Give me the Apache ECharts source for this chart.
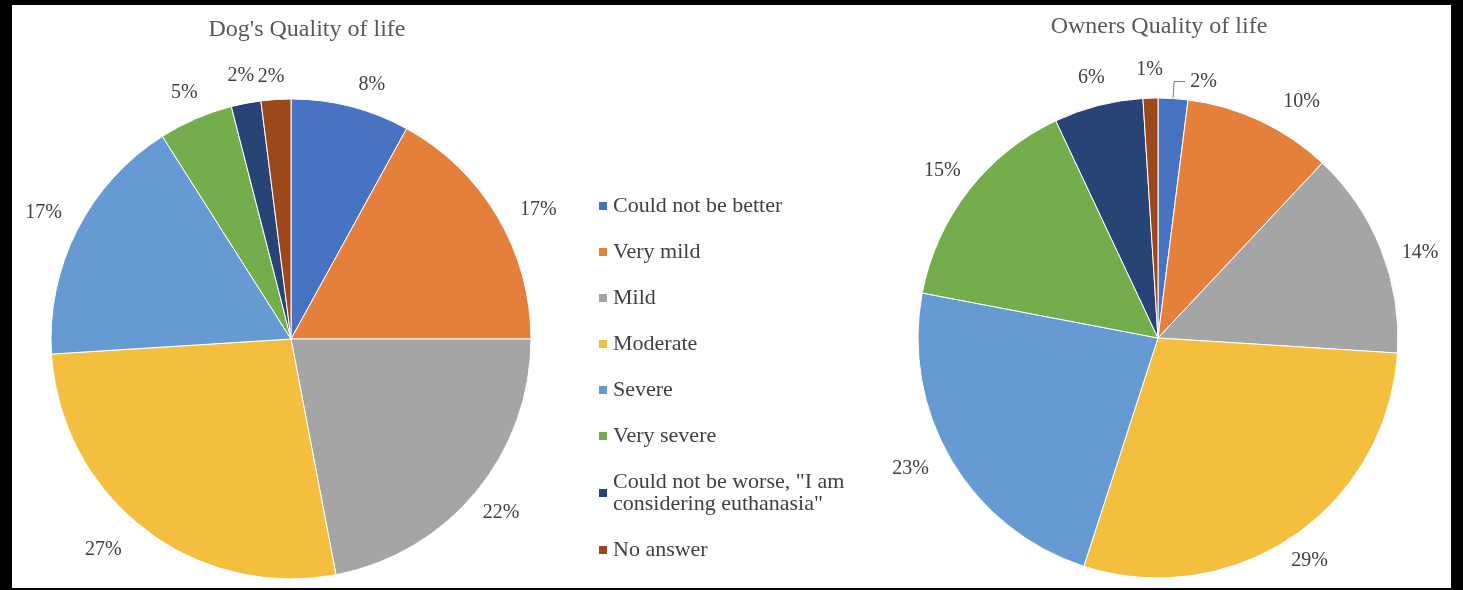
<!DOCTYPE html>
<html>
<head>
<meta charset="utf-8">
<script src="https://cdn.jsdelivr.net/npm/echarts@6/dist/echarts.min.js"></script>
<style>
  html, body { margin: 0; background: #000; }
  #chart { position: absolute; left: 12px; top: 5px; width: 1439px; height: 583px; background: #fff; }
</style>
</head>
<body>
<div id="chart"></div>
<script>
const categories = [
  'Could not be better',
  'Very mild',
  'Mild',
  'Moderate',
  'Severe',
  'Very severe',
  'Could not be worse, "I am considering euthanasia"',
  'No answer'
];
const dogValues = [8, 17, 22, 27, 17, 5, 2, 2];
const ownerValues = [2, 10, 14, 29, 23, 15, 6, 1];
const titles = ["Dog's Quality of life", 'Owners Quality of life'];

const colors = ['#4872C2', '#E4803C', '#A5A5A5', '#F4BF3E', '#659AD3', '#74AD4C', '#284476', '#9C481A'];
const serif = '"Liberation Serif", "Times New Roman", serif';
const RADIUS = 240;

// Excel's best-fit moved some labels off the slice middle; small hand nudges
const dogNudge = { 0: [14, 6], 1: [10, 11], 3: [-22, -3], 7: [-3, 5] };
const ownerNudge = { 1: [29, 7], 2: [2, 18], 4: [-10, -10] };

function midAngles(values) {
  const total = values.reduce((a, b) => a + b, 0);
  let acc = 0;
  return values.map(v => {
    const m = (acc + v / 2) / total * 2 * Math.PI;
    acc += v;
    return m;
  });
}

// "outside end" placement: label box sits just beyond the rim along the slice middle
function outsideEnd(values, center, nudge, skip) {
  const mids = midAngles(values);
  return params => {
    const i = params.dataIndex;
    if (i === skip) return {};
    const ux = Math.sin(mids[i]);
    const uy = -Math.cos(mids[i]);
    const hw = params.labelRect.width / 2;
    const hh = 8;
    const t = Math.min(hw / Math.max(Math.abs(ux), 1e-6), hh / Math.max(Math.abs(uy), 1e-6));
    const dist = RADIUS + 20 + t;
    const n = nudge[i] || [0, 0];
    return {
      x: center[0] + dist * ux + n[0],
      y: center[1] + dist * uy + n[1],
      align: 'center',
      verticalAlign: 'middle'
    };
  };
}

function pie(values, center, nudge, leaderIdx) {
  return {
    type: 'pie',
    center: center,
    radius: RADIUS,
    startAngle: 90,
    clockwise: true,
    avoidLabelOverlap: false,
    itemStyle: { borderColor: '#fff', borderWidth: 1 },
    label: { show: true, position: 'outside', formatter: '{c}%', color: '#404040', fontFamily: serif, fontSize: 20 },
    labelLine: { show: false, length: 17, length2: 11, lineStyle: { color: '#808080', width: 1 } },
    labelLayout: outsideEnd(values, center, nudge, leaderIdx),
    emphasis: { disabled: true },
    data: categories.map((name, i) => i === leaderIdx
      ? { name, value: values[i], labelLine: { show: true } }
      : { name, value: values[i] })
  };
}

const chart = echarts.init(document.getElementById('chart'));
chart.setOption({
  animation: false,
  color: colors,
  title: [
    { text: titles[0], left: 295, top: 13, textAlign: 'center', padding: 0,
      textStyle: { fontFamily: serif, fontSize: 24, fontWeight: 'normal', color: '#595959' } },
    { text: titles[1], left: 1147, top: 10, textAlign: 'center', padding: 0,
      textStyle: { fontFamily: serif, fontSize: 24, fontWeight: 'normal', color: '#595959' } }
  ],
  legend: {
    orient: 'vertical',
    left: 585,
    top: 190,
    padding: 0,
    itemWidth: 10,
    itemHeight: 10,
    itemGap: 24,
    icon: 'rect',
    selectedMode: false,
    textStyle: { fontFamily: serif, fontSize: 22, color: '#404040', lineHeight: 22 },
    formatter: n => n.replace('I am ', 'I am\n'),
    data: categories
  },
  series: [
    pie(dogValues, [279, 334], dogNudge, -1),
    pie(ownerValues, [1146, 333], ownerNudge, 0)
  ]
});
</script>
</body>
</html>
